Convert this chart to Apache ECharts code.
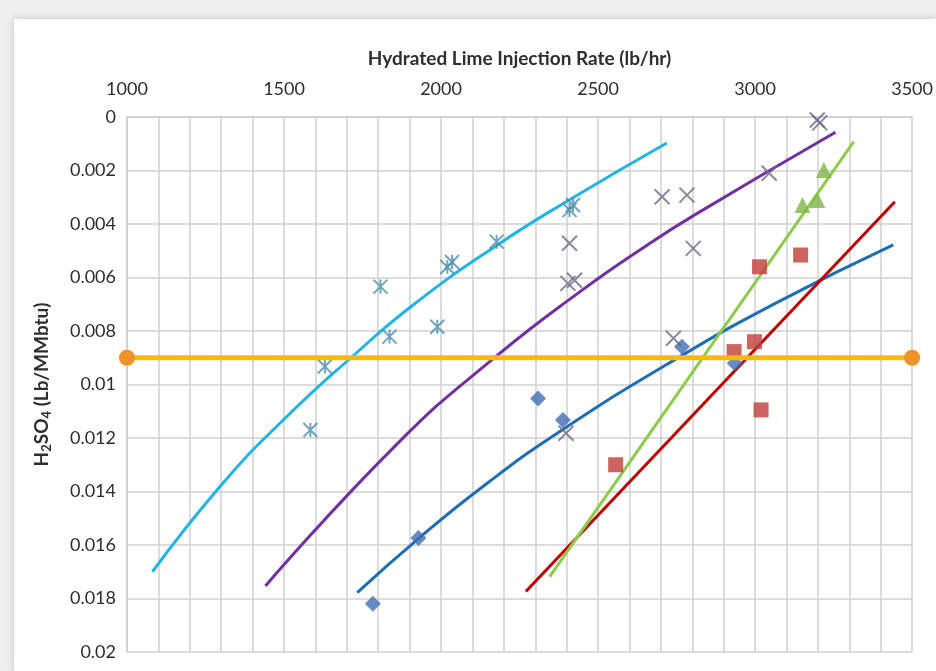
<!DOCTYPE html>
<html>
<head>
<meta charset="utf-8">
<script src="https://cdn.jsdelivr.net/npm/echarts@6/dist/echarts.min.js"></script>
<style>
  html, body { margin: 0; padding: 0; background: #efefef; }
  #card { position: absolute; left: 14px; top: 19px; right: 0; bottom: 0; background: #fff;
          box-shadow: 0 0 8px rgba(0,0,0,0.18); }
  #chart { position: absolute; left: 0; top: 0; width: 936px; height: 671px; }
</style>
</head>
<body>
<div id="card"></div>
<div id="chart"></div>
<script>
// Axis ticks
const xTickLabels = [1000, 1500, 2000, 2500, 3000, 3500];
const yTickLabels = ['0', '0.002', '0.004', '0.006', '0.008', '0.01', '0.012', '0.014', '0.016', '0.018', '0.02'];

// Measured points: [lime rate lb/hr, H2SO4 lb/MMbtu]
const starPoints = [[1584, 0.0117], [1630, 0.00933], [1807, 0.00634], [1836, 0.00821], [1988, 0.00784],
  [2020, 0.00561], [2035, 0.00542], [2177, 0.00466], [2409, 0.00348], [2420, 0.00329]];
const crossPoints = [[2404, 0.00622], [2425, 0.0061], [2409, 0.00472], [2704, 0.00298], [2783, 0.00292],
  [2803, 0.00491], [3045, 0.0021], [3198, 0.00011], [3206, 0.00022], [2740, 0.00827], [2398, 0.01182]];
const diamondPoints = [[1783, 0.0182], [1928, 0.01574], [2309, 0.01052], [2388, 0.01133], [2767, 0.00859], [2935, 0.00921]];
const squarePoints = [[2556, 0.0130], [2933, 0.00877], [2998, 0.0084], [3019, 0.01095], [3014, 0.0056], [3145, 0.00516]];
const trianglePoints = [[3151, 0.00329], [3198, 0.0031], [3219, 0.00198]];

// Trend lines
const cyanTrend = [[1081, 0.0170], [1303, 0.01372], [1500, 0.0113], [1713, 0.0090], [1914, 0.0070],
  [2177, 0.0048], [2408, 0.0031], [2719, 0.00097]];
const purpleTrend = [[1441, 0.01753], [1862, 0.0122], [2177, 0.00893], [2446, 0.0065], [2651, 0.00483],
  [2809, 0.00365], [3256, 0.00057]];
const blueTrend = [[1733, 0.01778], [1930, 0.01574], [2146, 0.0137], [2388, 0.01168], [2746, 0.00906],
  [3072, 0.00692], [3440, 0.00478]];
const redTrend = [[2270, 0.01774], [3445, 0.00317]];
const greenTrend = [[2346, 0.01718], [3314, 0.00092]];
const limitLine = [[1000, 0.009], [3500, 0.009]];

const FONT = 'Lato';
const gridColor = '#d0d0d0';
const textColor = '#2e2e2e';

const crossPath = 'path://M0,0L10,10M10,0L0,10';
const starPath = 'path://M0,0L10,10M10,0L0,10M5,0L5,10';

function trend(data, color) {
  return {
    type: 'line', data: data, smooth: 0.5, showSymbol: false,
    lineStyle: { color: color, width: 3 }, z: 3, silent: true
  };
}
function markers(data, symbol, size, style) {
  return { type: 'scatter', data: data, symbol: symbol, symbolSize: size, itemStyle: style, z: 4, silent: true };
}

const chart = echarts.init(document.getElementById('chart'), null, { renderer: 'canvas' });
chart.setOption({
  animation: false,
  backgroundColor: 'transparent',
  grid: { left: 127, right: 17, top: 117, bottom: 19 },
  xAxis: {
    type: 'value', position: 'top', min: 1000, max: 3500, interval: 100,
    name: 'Hydrated Lime Injection Rate (lb/hr)', nameLocation: 'middle', nameGap: 49,
    nameTextStyle: { fontFamily: FONT, fontWeight: 'bold', fontSize: 19, color: textColor },
    axisLine: { show: true, lineStyle: { color: gridColor, width: 1.5 } },
    axisTick: { show: false },
    axisLabel: {
      margin: 19, fontFamily: FONT, fontSize: 18, color: textColor,
      formatter: v => (xTickLabels.indexOf(Math.round(v)) >= 0 ? String(Math.round(v)) : '')
    },
    splitLine: { show: true, lineStyle: { color: gridColor, width: 1.5 } }
  },
  yAxis: {
    type: 'value', inverse: true, min: 0, max: 0.02, interval: 0.002,
    name: '{b|H}{s|2}{b|SO}{s|4}{b| (Lb/MMbtu)}', nameLocation: 'middle', nameGap: 74, nameRotate: 90,
    nameTextStyle: {
      rich: {
        b: { fontFamily: FONT, fontWeight: 'bold', fontSize: 19, color: textColor, lineHeight: 22 },
        s: { fontFamily: FONT, fontWeight: 'bold', fontSize: 13, color: textColor, lineHeight: 22, verticalAlign: 'bottom', padding: [7, 0, 0, 0] }
      }
    },
    axisLine: { show: true, lineStyle: { color: gridColor, width: 1.5 } },
    axisTick: { show: false },
    axisLabel: {
      margin: 11, fontFamily: FONT, fontSize: 18, color: textColor,
      formatter: v => yTickLabels[Math.round(v / 0.002)]
    },
    splitLine: { show: true, lineStyle: { color: gridColor, width: 1.5 } }
  },
  series: [
    trend(cyanTrend, '#22b4e8'),
    trend(purpleTrend, '#7030a0'),
    trend(blueTrend, '#1f6db5'),
    trend(redTrend, '#c00000'),
    trend(greenTrend, '#8dcb4a'),
    markers(starPoints, starPath, 14, { color: 'transparent', borderColor: '#4d8eaa', borderWidth: 2 }),
    markers(crossPoints, crossPath, 15, { color: 'transparent', borderColor: '#6f6a86', borderWidth: 2 }),
    markers(diamondPoints, 'diamond', 16, { color: '#3f6eb0' }),
    markers(squarePoints, 'rect', 15, { color: '#bf3f38' }),
    markers(trianglePoints, 'triangle', 16, { color: '#80b548' }),
    {
      type: 'line', data: limitLine, showSymbol: true, symbol: 'circle', symbolSize: 16, clip: false,
      lineStyle: { color: '#f8b80c', width: 5 }, itemStyle: { color: '#ee9229' }, z: 5, silent: true
    }
  ]
});
</script>
</body>
</html>
